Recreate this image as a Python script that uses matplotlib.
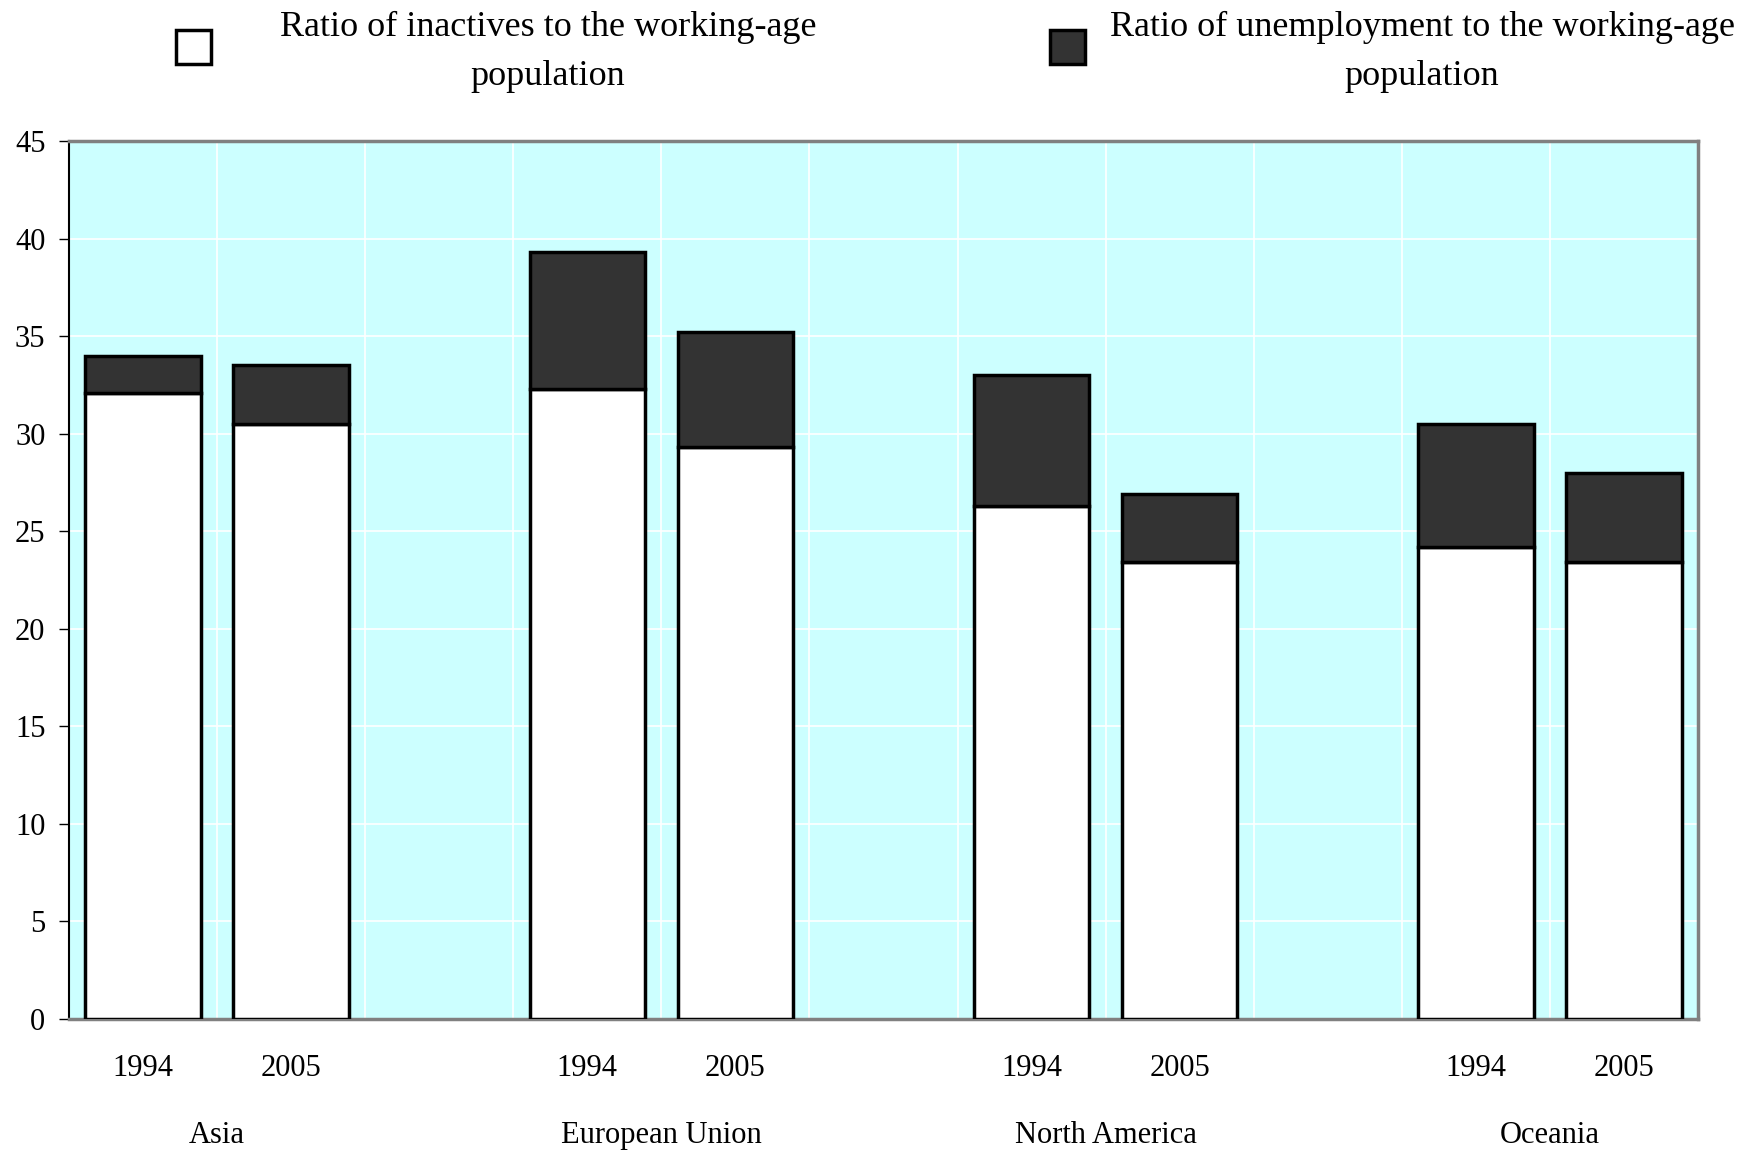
import numpy as np
import matplotlib.pyplot as plt
from matplotlib.patches import Rectangle

#+++ Data
regions = ["Asia", "European Union", "North America", "Oceania"]
years = ["1994", "2005"]
inactive = [32.1, 30.5, 32.3, 29.3, 26.3, 23.4, 24.2, 23.4]
unemployment = [1.9, 3.0, 7.0, 5.9, 6.7, 3.5, 6.3, 4.6]
series_labels = ["Ratio of inactives to the working-age\npopulation",
                 "Ratio of unemployment to the working-age\npopulation"]
series_colors = ["white", "#333333"]
#---

plt.rcParams["font.family"] = ["Liberation Serif", "DejaVu Serif"]

# two bars per region, one empty slot between regions
slots = np.array([i * 3 + j for i in range(len(regions)) for j in range(len(years))])
n_slots = slots.max() + 1

fig = plt.figure(figsize=(17.56, 11.52), dpi=100)
ax = fig.add_axes([0.0393, 0.1155, 0.9277, 0.7621])
ax.set_facecolor("#CCFFFF")

bw = 0.78
ax.bar(slots, inactive, bw, color=series_colors[0], edgecolor="black", linewidth=2.5, zorder=3)
ax.bar(slots, unemployment, bw, bottom=inactive, color=series_colors[1], edgecolor="black",
       linewidth=2.5, zorder=3)

ax.set_xlim(-0.5, n_slots - 0.5)
ax.set_ylim(0, 45)
ax.set_yticks(np.arange(0, 46, 5))
ax.set_xticks(slots, years * len(regions))
ax.set_xticks(np.arange(0.5, n_slots - 0.5), minor=True)
ax.tick_params(axis="x", which="both", length=0, pad=25, labelsize=22)
ax.tick_params(axis="y", length=7, width=1, pad=10, labelsize=22, direction="out")
ax.grid(True, which="major", axis="y", color="white", linewidth=1.2, zorder=0)
ax.grid(True, which="minor", axis="x", color="white", linewidth=1.2, zorder=0)
ax.set_axisbelow(True)

for side in ["top", "right", "bottom"]:
    ax.spines[side].set_color("#808080")
    ax.spines[side].set_linewidth(2.5)
ax.spines["left"].set_color("black")
ax.spines["left"].set_linewidth(1.5)

# region names centred under each pair of bars
for i, name in enumerate(regions):
    ax.text(i * 3 + 0.5, -0.133, name, transform=ax.get_xaxis_transform(),
            ha="center", va="center", fontsize=22)

# legend: swatch on the left, two-line centred label
W, H = fig.get_size_inches() * fig.dpi
legend_items = [(176, 548), (1050, 1422)]
for (box_x, text_x), label, color in zip(legend_items, series_labels, series_colors):
    fig.add_artist(Rectangle((box_x / W, 1 - 64 / H), 35 / W, 34 / H, transform=fig.transFigure,
                             facecolor=color, edgecolor="black", linewidth=2.5))
    fig.text(text_x / W, 1 - 52 / H, label, ha="center", va="center", fontsize=26,
             linespacing=1.62, multialignment="center")

fig.savefig("out.png", dpi=100)
